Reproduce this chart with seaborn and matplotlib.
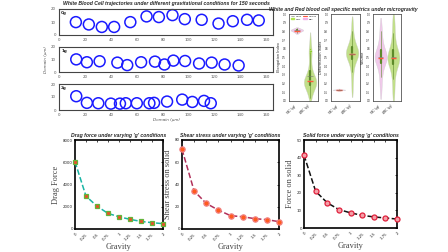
import numpy as np
import pandas as pd
import matplotlib
matplotlib.use("Agg")
import matplotlib.pyplot as plt
import seaborn as sns
from matplotlib.lines import Line2D
from matplotlib.patches import Patch

sns.set_style("white")
plt.rcParams['font.family'] = ['DejaVu Sans']

# ---------------- data ----------------
traj_labels = ["0g", "1g", "2g"]
traj_x_0g = [13, 23, 33, 42.5, 55, 67.5, 77, 87.5, 97, 110, 123, 134, 145, 154]
traj_y_0g = [9.9, 8.1, 6.2, 6.2, 9.9, 14.3, 13.8, 15.3, 12.2, 11.7, 8.8, 10.6, 11.7, 11.2]
traj_x_1g = [13.3, 21.5, 31.3, 45, 52.6, 63.3, 74, 81.3, 88.2, 97.2, 108, 117.7, 127.7, 138.5]
traj_y_1g = [10.1, 7.8, 8.6, 7.5, 5.5, 7.8, 8.3, 6.0, 9.1, 8.8, 6.8, 7.5, 6.0, 5.2]
traj_x_2g = [13.3, 21.5, 30.3, 40, 47, 51.5, 60, 69.7, 73.3, 83.3, 95, 102.8, 111.8, 117]
traj_y_2g = [10.6, 5.5, 5.2, 4.9, 4.9, 5.2, 5.2, 5.2, 5.5, 6.5, 8.0, 6.2, 7.0, 5.2]
traj_xticks = [0, 20, 40, 60, 80, 100, 120, 140, 160]

violin_groups = ["RBC (μg)", "WBC (μg)"]
elong_rbc = [0.78, 0.79, 0.80, 0.80, 0.81, 0.81, 0.81, 0.82, 0.82, 0.82, 0.83, 0.83, 0.84]
elong_wbc = [0.03, 0.07, 0.10, 0.13, 0.15, 0.17, 0.18, 0.19, 0.20, 0.21, 0.21, 0.22, 0.22,
             0.23, 0.23, 0.24, 0.25, 0.26, 0.28, 0.30, 0.33, 0.37, 0.42, 0.50, 0.56, 0.58, 0.60, 0.72]
deform_rbc = [0.12, 0.125, 0.13, 0.13, 0.13, 0.135, 0.14, 0.13, 0.128, 0.132]
deform_wbc = [0.12, 0.25, 0.33, 0.40, 0.45, 0.48, 0.50, 0.52, 0.53, 0.54, 0.54, 0.55, 0.56,
              0.57, 0.58, 0.60, 0.62, 0.65, 0.68, 0.72, 0.80, 0.90]
vol_rbc = [0.10, 0.20, 0.28, 0.34, 0.38, 0.42, 0.45, 0.47, 0.48, 0.49, 0.50, 0.50, 0.51,
           0.52, 0.53, 0.55, 0.57, 0.60, 0.63, 0.67, 0.72, 0.80, 0.88]
vol_wbc = [0.05, 0.15, 0.25, 0.32, 0.38, 0.42, 0.45, 0.47, 0.48, 0.48, 0.49, 0.50, 0.51,
           0.52, 0.54, 0.56, 0.60, 0.64, 0.70, 0.78, 0.86, 0.95]
violin_ylabels = ["Elongation Index", "Deformation Index", "Volume"]

gravity = [0, 0.25, 0.5, 0.75, 1, 1.25, 1.5, 1.75, 2]
gravity_labels = ["0", "0.25", "0.5", "0.75", "1", "1.25", "1.5", "1.75", "2"]
drag_force = [6050, 2950, 2050, 1400, 1100, 870, 680, 570, 480]
shear_stress = [71.6, 34.2, 23.0, 17.0, 12.0, 11.0, 9.3, 8.4, 6.6]
solid_force = [41.4, 20.9, 14.3, 10.5, 8.6, 7.2, 6.3, 5.7, 5.1]

# ---------------- figure ----------------
W, H = 448, 252
fig = plt.figure(figsize=(W / 100, H / 100), dpi=100)

def box(l, t, r, b):
    return [l / W, 1 - b / H, (r - l) / W, (b - t) / H]

title_kw = dict(fontsize=3.7, fontweight='bold', fontstyle='italic', family='Liberation Sans')

# trajectories
traj_boxes = [(59, 9, 273, 35), (59, 47, 273, 72), (59, 84, 273, 110)]
traj_data = [(traj_x_0g, traj_y_0g), (traj_x_1g, traj_y_1g), (traj_x_2g, traj_y_2g)]
for i, (bx, (xs, ys)) in enumerate(zip(traj_boxes, traj_data)):
    ax = fig.add_axes(box(*bx))
    sns.scatterplot(x=xs, y=ys, ax=ax, s=62, facecolor='none', edgecolor='#1a1aff',
                    linewidth=1.1, clip_on=False)
    ax.set_xlim(0, 165)
    ax.set_ylim(0, 20)
    ax.set_xticks(traj_xticks)
    ax.set_yticks([0, 10, 20])
    ax.tick_params(labelsize=2.8, colors='#555555', length=1.2, width=0.4, pad=1)
    for s in ax.spines.values():
        s.set_linewidth(0.8)
        s.set_color('#444444')
    ax.text(0.01, 0.93, traj_labels[i], transform=ax.transAxes, fontsize=3, fontweight='bold',
            va='top', ha='left')
    if i == 1:
        ax.set_ylabel("Domain (μm)", fontsize=3, fontstyle='italic', color='#555555', labelpad=2)
    if i == 2:
        ax.set_xlabel("Domain (μm)", fontsize=3, fontstyle='italic', color='#555555', labelpad=1)
fig.text(166 / W, 1 - 4 / H, "White Blood Cell trajectories under different gravitational conditions for 150 seconds",
         ha='center', va='center', **title_kw)

# violins
vio_boxes = [(289, 14, 318, 101), (331, 14, 360, 101), (373, 14, 401, 101)]
vio_data = [(elong_rbc, elong_wbc), (deform_rbc, deform_wbc), (vol_rbc, vol_wbc)]
pal = {violin_groups[0]: '#f4b0ea', violin_groups[1]: '#b2e84e'}
for i, (bx, (r, w)) in enumerate(zip(vio_boxes, vio_data)):
    ax = fig.add_axes(box(*bx))
    df = pd.DataFrame({"group": [violin_groups[0]] * len(r) + [violin_groups[1]] * len(w),
                       "val": r + w})
    sns.violinplot(data=df, x="group", y="val", hue="group", palette=pal, ax=ax,
                   density_norm='width', cut=1, bw_adjust=0.8, linewidth=0.3, width=0.95,
                   linecolor='#c8c8c8',
                   inner='box', inner_kws=dict(box_width=1.6, whis_width=0.4, color='#5d8a2a'),
                   alpha=0.75, legend=False)
    for j, vals in enumerate((r, w)):
        med = np.median(vals)
        mean = np.mean(vals)
        ax.hlines(med, j - 0.2, j + 0.2, color='#ff5a3c', lw=1.0, zorder=5)
        ax.hlines(mean, j - 0.2, j + 0.2, color='#777777', lw=0.4, zorder=6)
    if i == 0:
        sns.stripplot(x=[violin_groups[1]] * 4, y=[0.55, 0.57, 0.58, 0.60], ax=ax, size=0.9,
                      color='#8fd12a', jitter=0.05)
        ax.legend(handles=[Line2D([], [], color='#777777', lw=0.4, label='Mean'),
                           Patch(color='#b2e84e', label='WBC'),
                           Line2D([], [], color='#ff5a3c', lw=0.8, label='Median'),
                           Patch(color='#f4b0ea', label='RBC')],
                  ncol=2, fontsize=1.6, loc='upper center', frameon=False,
                  handlelength=1.5, handleheight=0.5, columnspacing=0.6, borderpad=0.2)
    ax.set_ylim(0, 1)
    ax.set_xlim(-0.6, 1.6)
    ax.set_yticks(np.arange(0, 1.01, 0.1))
    ax.set_yticklabels([f"{v:.1f}" for v in np.arange(0, 1.01, 0.1)])
    ax.set_xticks([0, 1])
    ax.set_xticklabels(violin_groups, rotation=45, ha='right')
    ax.tick_params(labelsize=1.8, length=1, width=0.3, pad=1)
    ax.set_xlabel("")
    ax.set_ylabel(violin_ylabels[i], fontsize=2.5, labelpad=1)
    for s in ax.spines.values():
        s.set_linewidth(0.6)
        s.set_color('#555555')
fig.text(343 / W, 1 - 9 / H, "White and Red blood cell specific metrics under microgravity",
         ha='center', va='center', **title_kw)

# bottom panels
bottom = [
    dict(bx=(75, 140, 163, 229), y=drag_force, ylim=(0, 8000), yt=[0, 2000, 4000, 6000, 8000],
         yl="Drag Force", title="Drag force under varying 'g' conditions",
         color='#19b5a5', marker='s', mfc='#e8502a', mec='#63b53a', ms=3.2),
    dict(bx=(182, 140, 279, 229), y=shear_stress, ylim=(0, 80), yt=[0, 20, 40, 60, 80],
         yl="Shear stress on solid", title="Shear stress under varying 'g' conditions",
         color='#b0305a', marker='o', mfc='#ff5a1e', mec='#f08080', ms=3.8),
    dict(bx=(304, 140, 397, 228), y=solid_force, ylim=(0, 50), yt=[0, 10, 20, 30, 40, 50],
         yl="Force on solid", title="Solid force under varying 'g' conditions",
         color='#111111', marker='o', mfc='#f4a0a8', mec='#e0203c', ms=3.6),
]
for p in bottom:
    ax = fig.add_axes(box(*p['bx']))
    sns.lineplot(x=gravity, y=p['y'], ax=ax, color=p['color'], linestyle='--', lw=1.1,
                 marker=p['marker'], markersize=p['ms'], markerfacecolor=p['mfc'],
                 markeredgecolor=p['mec'], markeredgewidth=0.9, clip_on=False, zorder=3)
    ax.set_xlim(0, 2)
    ax.set_ylim(*p['ylim'])
    ax.set_yticks(p['yt'])
    ax.set_xticks(gravity)
    ax.set_xticklabels(gravity_labels, rotation=45, ha='right', rotation_mode='anchor')
    ax.tick_params(labelsize=2.8, length=1.5, width=0.6, direction='in', top=True, right=True, pad=1.5)
    ax.tick_params(axis='x', pad=2.5)
    for s in ax.spines.values():
        s.set_linewidth(1.2)
        s.set_color('black')
    ax.set_ylabel(p['yl'], fontsize=6, family='Liberation Serif', color='#444444', labelpad=2)
    ax.set_xlabel("Gravity", fontsize=6, family='Liberation Serif', color='#444444', labelpad=1)
    ax.set_title(p['title'], pad=2.5, **title_kw)

fig.savefig("out.png", dpi=100)
